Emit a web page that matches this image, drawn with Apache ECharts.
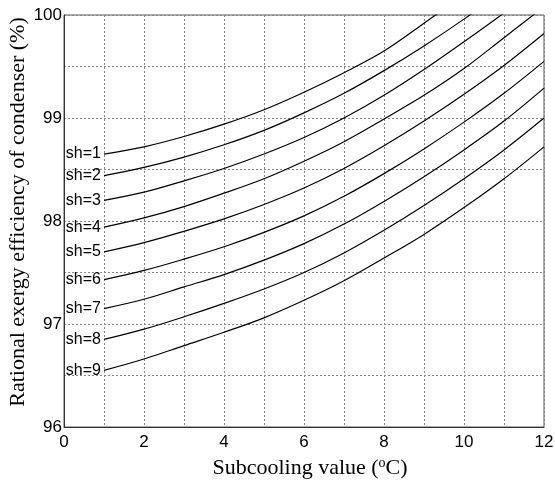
<!DOCTYPE html>
<html>
<head>
<meta charset="utf-8">
<script src="https://cdn.jsdelivr.net/npm/echarts@6/dist/echarts.min.js"></script>
<style>html,body{margin:0;padding:0;background:#fff}#c{width:555px;height:487px}</style>
</head>
<body>
<div id="c"></div>
<script>
const subcooling = [1,2,3,4,5,6,7,8,9,10,11,12];
const seriesNames = ['sh=1','sh=2','sh=3','sh=4','sh=5','sh=6','sh=7','sh=8','sh=9'];
const sh1 = [98.65,98.72,98.82,98.94,99.08,99.25,99.44,99.65,99.92,100.20,100.50,100.82];
const sh2 = [98.44,98.52,98.62,98.74,98.88,99.05,99.24,99.46,99.70,99.96,100.24,100.54];
const sh3 = [98.20,98.28,98.39,98.51,98.65,98.81,99.00,99.22,99.47,99.74,100.02,100.32];
const sh4 = [97.94,98.03,98.14,98.27,98.41,98.58,98.77,98.99,99.22,99.48,99.78,100.08];
const sh5 = [97.70,97.79,97.90,98.02,98.16,98.32,98.51,98.73,98.97,99.23,99.51,99.82];
const sh6 = [97.43,97.52,97.63,97.75,97.89,98.05,98.24,98.46,98.70,98.96,99.24,99.55];
const sh7 = [97.15,97.24,97.36,97.48,97.62,97.78,97.97,98.19,98.43,98.69,98.97,99.29];
const sh8 = [96.85,96.95,97.07,97.20,97.34,97.50,97.69,97.91,98.15,98.41,98.69,99.00];
const sh9 = [96.55,96.66,96.79,96.92,97.06,97.23,97.42,97.64,97.87,98.13,98.41,98.72];
const allSeries = [sh1,sh2,sh3,sh4,sh5,sh6,sh7,sh8,sh9];
const xTickLabels = ['0','2','4','6','8','10','12'];
const yTickLabels = ['96','97','98','99','100'];

const chart = echarts.init(document.getElementById('c'), null, {renderer:'canvas'});
const series = allSeries.map((vals, i) => ({
  type: 'line',
  name: seriesNames[i],
  showSymbol: true,
  symbol: 'circle',
  symbolSize: 0,
  clip: true,
  smooth: 0.35,
  lineStyle: {color: '#000', width: 1.2},
  itemStyle: {color: '#000'},
  label: {show: false},
  data: vals.map((v, j) => j === 0 ? {
    value: [subcooling[j], v],
    label: {show: true, position: 'left', distance: 3, formatter: seriesNames[i],
      color: '#000', fontFamily: 'Liberation Sans, Arial, sans-serif', fontSize: 16}
  } : [subcooling[j], v])
}));

chart.setOption({
  animation: false,
  backgroundColor: '#fff',
  grid: {left: 64, right: 11, top: 15, bottom: 60, show: true, borderColor: '#555', borderWidth: 1, containLabel: false, outerBoundsMode: 'none'},
  xAxis: {
    type: 'value', min: 0, max: 12, interval: 1,
    name: 'Subcooling value ({sup|o}C)',
    nameLocation: 'middle', nameGap: 26,
    nameTextStyle: {
      fontFamily: 'Liberation Serif, Times New Roman, serif', fontSize: 22, color: '#000',
      padding: [0, 0, 0, 12],
      rich: {sup: {fontFamily: 'Liberation Serif, Times New Roman, serif', fontSize: 14, verticalAlign: 'bottom', padding: [0,0,11,0], color: '#000'}}
    },
    axisLine: {show: true, lineStyle: {color: '#333', width: 1}},
    axisTick: {show: false},
    axisLabel: {
      color: '#000', fontFamily: 'Liberation Sans, Arial, sans-serif', fontSize: 17, margin: 7,
      formatter: v => { const s = String(v); return xTickLabels.includes(s) ? s : ''; }
    },
    splitLine: {show: true, lineStyle: {color: '#888', type: [2,2], width: 1}}
  },
  yAxis: {
    type: 'value', min: 96, max: 100, interval: 0.5,
    name: 'Rational exergy efficiency of condenser (%)',
    nameLocation: 'middle', nameGap: 35, nameMoveOverlap: false,
    nameTextStyle: {fontFamily: 'Liberation Serif, Times New Roman, serif', fontSize: 22, color: '#000', padding: [0, 0, 0, 18]},
    axisLine: {show: true, lineStyle: {color: '#333', width: 1}},
    axisTick: {show: false},
    axisLabel: {
      color: '#000', fontFamily: 'Liberation Sans, Arial, sans-serif', fontSize: 17, margin: 2,
      formatter: v => { const s = String(v); return yTickLabels.includes(s) ? s : ''; }
    },
    splitLine: {show: true, lineStyle: {color: '#888', type: [2,2], width: 1}}
  },
  series: series
});
</script>
</body>
</html>
